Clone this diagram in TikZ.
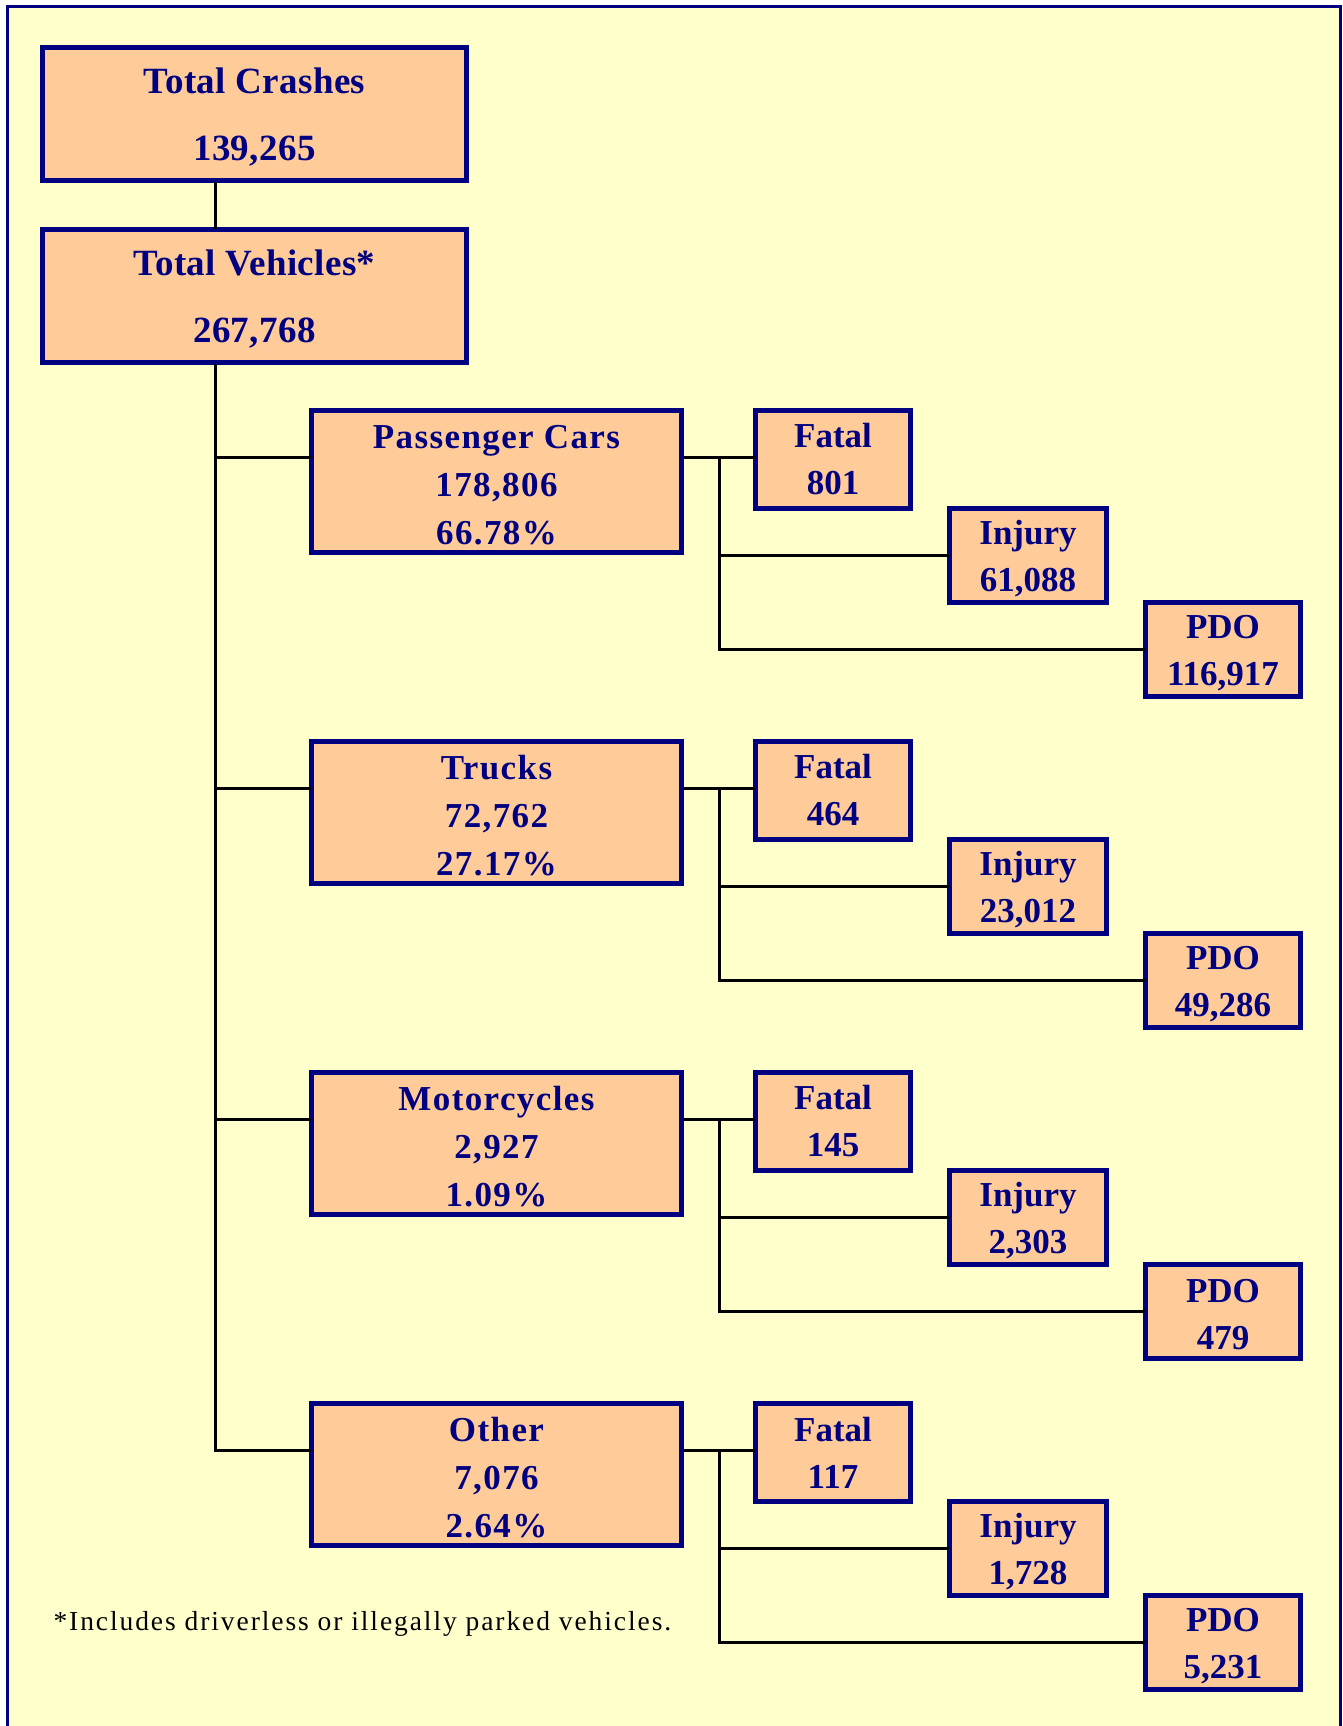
\documentclass[tikz,border=0pt]{standalone}
\usepackage{fontspec}
\setmainfont{Liberation Serif}
\definecolor{navy}{HTML}{000080}
\definecolor{peach}{HTML}{FFCC99}
\definecolor{paleyellow}{HTML}{FFFFCC}
\newcommand{\upstrut}[1]{\rule{0pt}{#1}}
\tikzset{
	box/.style={draw=navy,line width=5pt,fill=peach,text=navy,align=center,inner sep=0pt},
	topbox/.style={box,minimum width=424pt,minimum height=133pt,font=\bfseries\fontsize{37}{67}\selectfont\addfontfeature{LetterSpace=1}},
	mainbox/.style={box,minimum width=370pt,minimum height=142pt,font=\bfseries\fontsize{35}{48}\selectfont\addfontfeature{LetterSpace=4}},
	subbox/.style={box,minimum width=155pt,minimum height=94pt,font=\bfseries\fontsize{35}{47}\selectfont},
	link/.style={line width=3pt,draw=black,line cap=rect}
}
\begin{document}
\begin{tikzpicture}[x=1pt,y=-1pt,line join=miter]
	\useasboundingbox (0,0) rectangle (1343,1726);
	\fill[paleyellow] (7,7) rectangle (1340,1726);
	\draw[navy,line width=3pt] (7,1726)--(7,7)--(1340,7)--(1340,1726);
	\coordinate (t0) at (215,0);
	\node[topbox] (tc) at (254.5,114) {\upstrut{32pt}Total Crashes\\139,265};
	\node[topbox] (tv) at (254.5,296) {\upstrut{32pt}Total Vehicles*\\267,768};
	\draw[link] (tc.south -| t0) -- (tv.north -| t0);
	\foreach \i/\T/\kind/\tot/\pct/\fat/\inj/\pdo in {
		1/408/Passenger Cars/{178,806}/66.78\%/801/{61,088}/{116,917},
		2/739/Trucks/{72,762}/27.17\%/464/{23,012}/{49,286},
		3/1070/Motorcycles/{2,927}/1.09\%/145/{2,303}/479,
		4/1401/Other/{7,076}/2.64\%/117/{1,728}/{5,231}}{
		\coordinate (j\i) at (215,\T+49);
		\coordinate (b\i) at (719,\T+49);
		\node[mainbox] (m\i) at (496.5,\T+73.5) {\upstrut{30pt}\kind\\\tot\\\pct};
		\node[subbox,minimum height=98pt] (f\i) at (833,\T+51.5) {Fatal\\\fat};
		\node[subbox,minimum width=157pt] (n\i) at (1028,\T+147.5) {\upstrut{30pt}Injury\\\inj};
		\node[subbox] (p\i) at (1223,\T+241.5) {\upstrut{30pt}PDO\\\pdo};
		\draw[link] (j\i) -- (j\i -| m\i.west);
		\draw[link] (b\i -| m\i.east) -- (f\i.west |- b\i);
		\draw[link] (b\i) |- (n\i.west);
		\draw[link] (b\i) |- (p\i.west);
	}
	\draw[link] (tv.south -| t0) -- (j4);
	\node[anchor=base west,font=\fontsize{27.5}{33}\selectfont\addfontfeature{LetterSpace=7}] (note) at (50,1630) {*Includes driverless or illegally parked vehicles.};
\end{tikzpicture}
\end{document}
